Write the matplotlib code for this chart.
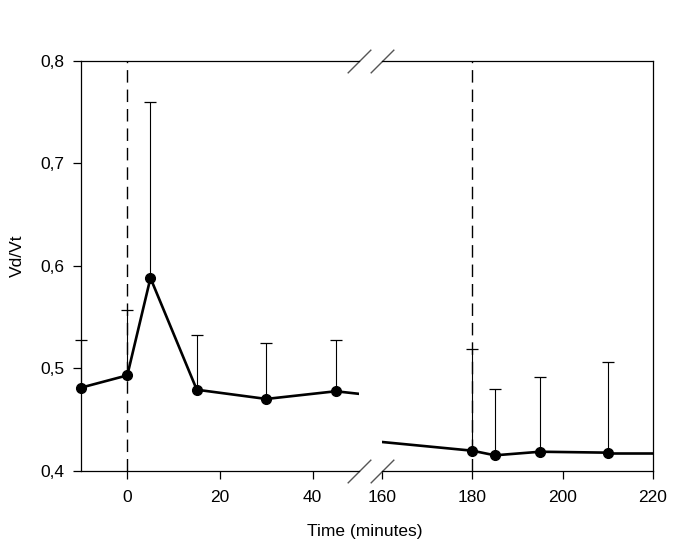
import matplotlib
matplotlib.use('Agg')
import matplotlib.pyplot as plt
import numpy as np
from matplotlib.ticker import FuncFormatter

plt.rcParams['font.family'] = ['Liberation Sans', 'DejaVu Sans']

# early segment (minutes)
t_early = [-10, 0, 5, 15, 30, 45]
vd_early = [0.481, 0.493, 0.588, 0.479, 0.470, 0.4775]
err_early = [0.528, 0.557, 0.760, 0.532, 0.525, 0.5275]
tail_early = [45, 50]
tail_early_y = [0.4775, 0.475]

# late segment (minutes)
t_late = [180, 185, 195, 210]
vd_late = [0.4195, 0.415, 0.4185, 0.4176]
err_late = [0.519, 0.480, 0.4915, 0.5065]
lead_late = [160, 180]
lead_late_y = [0.428, 0.4195]
tail_late = [210, 220]
tail_late_y = [0.4176, 0.4176]

fig = plt.figure(figsize=(6.85, 5.47), dpi=100)
bottom, height = 0.1395, 0.7495
ax1 = fig.add_axes([0.1182, bottom, 0.4058, height])
ax2 = fig.add_axes([0.5577, bottom, 0.3956, height], sharey=ax1)

def draw(ax, t, y, top):
    # upper error bars only
    ax.vlines(t, y, top, color='black', lw=0.8, clip_on=False)
    ax.plot(t, top, ls='none', marker='_', ms=9, mew=0.9, color='black', clip_on=False)
    ax.plot(t, y, color='black', lw=1.9, marker='o', ms=7, clip_on=False, zorder=3)

draw(ax1, t_early, vd_early, err_early)
ax1.plot(tail_early, tail_early_y, color='black', lw=1.9)
draw(ax2, t_late, vd_late, err_late)
ax2.plot(lead_late, lead_late_y, color='black', lw=1.9)
ax2.plot(tail_late, tail_late_y, color='black', lw=1.9)

ax1.axvline(0, color='black', lw=1, ls=(0, (9, 5)))
ax2.axvline(180, color='black', lw=1, ls=(0, (9, 5)))

ax1.set_xlim(-10, 50)
ax2.set_xlim(160, 220)
ax1.set_ylim(0.4, 0.8)
ax1.set_xticks([0, 20, 40])
ax2.set_xticks([160, 180, 200, 220])
ax1.set_yticks([0.4, 0.5, 0.6, 0.7, 0.8])
ax1.yaxis.set_major_formatter(FuncFormatter(lambda v, p: f'{v:.1f}'.replace('.', ',')))

ax1.spines['right'].set_visible(False)
ax2.spines['left'].set_visible(False)
ax2.tick_params(axis='y', left=False, labelleft=False)
for ax in (ax1, ax2):
    for s in ax.spines.values():
        s.set_linewidth(0.9)
    ax.tick_params(direction='out', length=6, width=0.9, labelsize=12.5)
    ax.tick_params(axis='x', pad=8)
    ax.tick_params(axis='y', pad=6)

# break marks
kw = dict(marker=[(-1, -1), (1, 1)], markersize=17, linestyle='none',
          color='#555555', mec='#555555', mew=1, clip_on=False)
ax1.plot([1, 1], [0, 1], transform=ax1.transAxes, **kw)
ax2.plot([0, 0], [0, 1], transform=ax2.transAxes, **kw)

fig.text(0.533, 0.02, 'Time (minutes)', ha='center', va='baseline', fontsize=12.5)
fig.text(0.025, 0.532, 'Vd/Vt', rotation=90, ha='center', va='center', fontsize=12.5)

fig.savefig('out.png', dpi=100)
